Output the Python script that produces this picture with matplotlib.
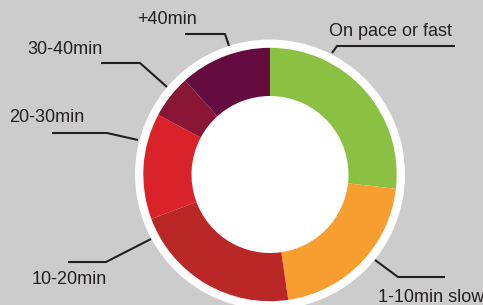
import numpy as np
import matplotlib.pyplot as plt
from matplotlib.patches import Circle

plt.rcParams['font.family'] = ['Liberation Sans', 'DejaVu Sans']

# share of finishers by pace (percent), clockwise from the top
labels = ['On pace or fast', '1-10min slow', '10-20min', '20-30min', '30-40min', '+40min']
shares = [26.8, 20.9, 21.6, 13.5, 5.5, 11.7]
colors = ['#8BC142', '#F89E31', '#B92727', '#DA222B', '#891634', '#640C40']

# label layout in pixel space (y measured from the top of the image)
# text position, start of leader on the ring, elbow, leader end
label_layout = {
    'On pace or fast': dict(text=(329, 32), ring=(332, 53), elbow=(337, 46), end=(455, 46)),
    '1-10min slow': dict(text=(378, 298), ring=(375, 260), elbow=(398, 277), end=(445, 277)),
    '10-20min': dict(text=(32, 280), ring=(151, 239), elbow=(106, 262), end=(68, 262)),
    '20-30min': dict(text=(9, 118), ring=(138, 140), elbow=(107, 133), end=(52, 133)),
    '30-40min': dict(text=(27, 50), ring=(167, 87), elbow=(140, 63), end=(101, 63)),
    '+40min': dict(text=(137, 20), ring=(229, 46), elbow=(225, 34), end=(185, 34)),
}

W, H = 483, 305
cx, cy = 270, 174.5
r_out, r_in, r_white = 126.7, 78.5, 135

fig = plt.figure(figsize=(W / 100, H / 100), dpi=100)
fig.patch.set_facecolor('#CCCCCC')
ax = fig.add_axes([0, 0, 1, 1])
ax.set_facecolor('#CCCCCC')

# white disc behind the ring gives the outer border and the hole
ax.add_patch(Circle((cx, H - cy), r_white, facecolor='white', edgecolor='none', zorder=1))

wedges, _ = ax.pie(shares, colors=colors, startangle=90, counterclock=False,
                   center=(cx, H - cy), radius=r_out,
                   wedgeprops=dict(width=r_out - r_in, linewidth=0),
                   frame=False)
for w in wedges:
    w.set_zorder(2)

ax.set_xlim(0, W)
ax.set_ylim(0, H)
ax.set_aspect('equal')
ax.axis('off')

for lab in labels:
    lay = label_layout[lab]
    pts = [lay['ring'], lay['elbow'], lay['end']]
    xs = [p[0] for p in pts]
    ys = [H - p[1] for p in pts]
    ax.plot(xs, ys, color='#231F20', lw=1.5, solid_capstyle='butt', zorder=3)
    ax.text(lay['text'][0], H - lay['text'][1], lab, ha='left', va='center',
            fontsize=13, color='#231F20', zorder=4)

fig.savefig('out.png', dpi=100, facecolor=fig.get_facecolor())
